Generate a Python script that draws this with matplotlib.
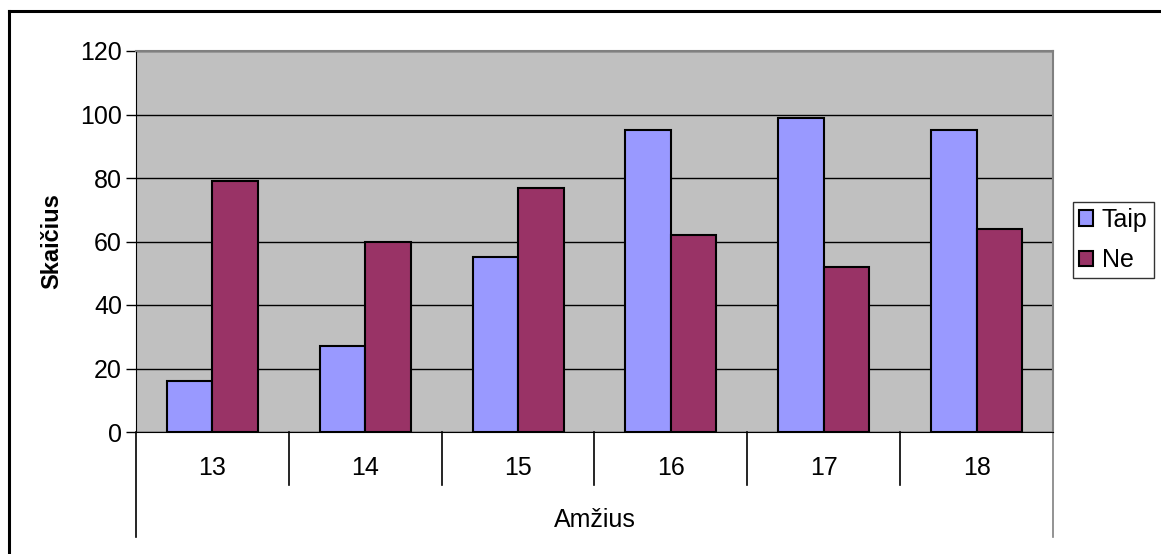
import matplotlib
matplotlib.use("Agg")
import numpy as np
import matplotlib.pyplot as plt
from matplotlib.lines import Line2D

plt.rcParams['font.family'] = ['Liberation Sans', 'DejaVu Sans']

# -------- Duomenys --------
amzius = ["13", "14", "15", "16", "17", "18"]
taip = [16, 27, 55, 95, 99, 95]
ne = [79, 60, 77, 62, 52, 64]

W, H = 1161, 554
fs = 18
fig = plt.figure(figsize=(W / 100, H / 100), dpi=100)
ax = fig.add_axes([136 / W, 1 - 432 / H, (1053 - 136) / W, (432 - 51) / H])
ax.set_facecolor("#C0C0C0")

x = np.arange(len(amzius))
bw = 0.298
ax.bar(x - bw / 2, taip, bw, color="#9999FF", edgecolor="black", linewidth=1.5, label="Taip", zorder=3)
ax.bar(x + bw / 2, ne, bw, color="#993366", edgecolor="black", linewidth=1.5, label="Ne", zorder=3)

ax.set_xlim(-0.5, len(amzius) - 0.5)
ax.set_ylim(0, 120)
ax.set_yticks(range(0, 121, 20))
ax.yaxis.grid(True, color="black", linewidth=1, zorder=1)
ax.tick_params(axis="y", labelsize=fs, length=7, direction="out", width=1, pad=3)
ax.set_xticks([])

for s in ["top", "right"]:
    ax.spines[s].set_color("#808080")
    ax.spines[s].set_linewidth(1.5)
ax.spines["left"].set_color("black")
ax.spines["bottom"].set_color("black")

# kategoriju etiketes ir skirtukai
tr = ax.get_xaxis_transform()
for i, lab in enumerate(amzius):
    ax.text(i, -0.095, lab, transform=tr, ha="center", va="center", fontsize=fs)
for b in np.arange(-0.5, len(amzius), 1.0):
    low = -0.2756 if b in (-0.5, len(amzius) - 0.5) else -0.139
    col = "#808080" if b == len(amzius) - 0.5 else "black"
    ax.plot([b, b], [0, low], transform=tr, color=col, linewidth=1.2, clip_on=False)
ax.text(2.5, -0.23, "Amžius", transform=tr, ha="center", va="center", fontsize=fs)

ax.set_ylabel("Skaičius", fontsize=17, fontweight="bold", labelpad=12)

# legenda
leg = fig.legend(loc="center left", bbox_to_anchor=(1073 / W, 1 - 240 / H), fontsize=fs,
                 frameon=True, fancybox=False, handlelength=0.55, handleheight=0.55,
                 handletextpad=0.35, borderpad=0.25, labelspacing=0.65, borderaxespad=0)
leg.get_frame().set_edgecolor("black")
leg.get_frame().set_linewidth(1)

# remelis
fig.add_artist(Line2D([9 / W, 9 / W], [0, 1 - 11 / H], color="black", linewidth=2.2))
fig.add_artist(Line2D([9 / W, 1], [1 - 11 / H, 1 - 11 / H], color="black", linewidth=2.2))

fig.savefig("out.png", dpi=100)
